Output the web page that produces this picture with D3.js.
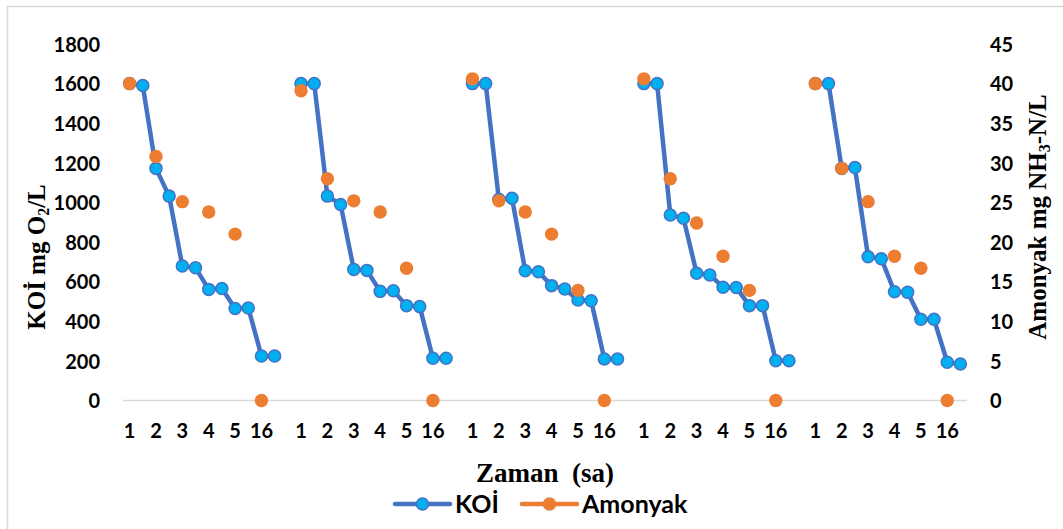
<!DOCTYPE html>
<html>
<head>
<meta charset="utf-8">
<script src="https://cdn.jsdelivr.net/npm/d3@7/dist/d3.min.js"></script>
<style>
  html, body { margin: 0; padding: 0; background: #fff; }
  svg { display: block; }
  .tick text { font-family: Lato, "Open Sans", sans-serif; font-weight: 700; font-size: 20px; fill: #000; }
  .title { font-family: "Liberation Serif", "Times New Roman", serif; font-weight: 700; fill: #000; }
  .legend text { font-family: Lato, "Open Sans", sans-serif; font-weight: 700; font-size: 25px; fill: #000; }
</style>
</head>
<body>
<svg id="chart" width="1063" height="529"></svg>
<script>
// Sampling times (hours) shown under each run
const times = ["1", "2", "3", "4", "5", "16"];

// COD (KOİ, mg O2/L): two readings per sampling time, five runs
const koiRun1 = [1600, 1590, 1172, 1032, 679, 670, 561, 565, 465, 467, 225, 225];
const koiRun2 = [1600, 1600, 1032, 990, 662, 657, 551, 554, 479, 474, 213, 213];
const koiRun3 = [1600, 1600, 1016, 1021, 655, 650, 580, 563, 507, 504, 210, 210];
const koiRun4 = [1600, 1600, 937, 920, 642, 634, 572, 571, 479, 479, 201, 201];
const koiRun5 = [1600, 1600, 1172, 1176, 726, 716, 549, 546, 410, 410, 193, 184];

// Ammonia (mg NH3-N/L): one reading per sampling time, five runs
const amonyakRun1 = [40.0, 30.8, 25.1, 23.8, 21.0, 0];
const amonyakRun2 = [39.1, 28.0, 25.2, 23.8, 16.7, 0];
const amonyakRun3 = [40.6, 25.2, 23.8, 21.0, 13.9, 0];
const amonyakRun4 = [40.6, 28.0, 22.4, 18.2, 13.9, 0];
const amonyakRun5 = [40.0, 29.3, 25.1, 18.2, 16.7, 0];

// Axis ticks
const koiTicks = [0, 200, 400, 600, 800, 1000, 1200, 1400, 1600, 1800];
const amonyakTicks = [0, 5, 10, 15, 20, 25, 30, 35, 40, 45];

const koiRuns = [koiRun1, koiRun2, koiRun3, koiRun4, koiRun5];
const amonyakRuns = [amonyakRun1, amonyakRun2, amonyakRun3, amonyakRun4, amonyakRun5];

// Build the category sequence: 12 slots per run plus one empty slot between runs
const categories = [];
const koiPoints = [];
const amonyakPoints = [];
koiRuns.forEach((run, r) => {
  run.forEach((v, k) => {
    const id = categories.length;
    categories.push({ id, label: k % 2 === 0 ? times[k / 2] : "" });
    koiPoints.push({ id, run: r, value: v });
    if (k % 2 === 0) amonyakPoints.push({ id, run: r, value: amonyakRuns[r][k / 2] });
  });
  if (r < koiRuns.length - 1) categories.push({ id: categories.length, label: "" });
});

const svg = d3.select("#chart");

// Chart frame
svg.append("path")
  .attr("d", "M7.5,529 V6.5 H1063")
  .attr("fill", "none")
  .attr("stroke", "#d9d9d9")
  .attr("stroke-width", 1.5);

const plot = { left: 123, right: 967, top: 44, bottom: 400.5 };

const x = d3.scaleBand()
  .domain(categories.map(d => d.id))
  .range([plot.left, plot.right])
  .padding(0);
const cx = id => x(id) + x.bandwidth() / 2;

const yKoi = d3.scaleLinear().domain([0, 1800]).range([plot.bottom, plot.top]);
const yAmo = d3.scaleLinear().domain([0, 45]).range([plot.bottom, plot.top]);

// Horizontal category axis line
svg.append("line")
  .attr("x1", plot.left).attr("x2", plot.right)
  .attr("y1", plot.bottom).attr("y2", plot.bottom)
  .attr("stroke", "#d9d9d9").attr("stroke-width", 1.5);

// Axes
const labelOf = new Map(categories.map(d => [d.id, d.label]));
svg.append("g")
  .attr("transform", `translate(0,${plot.bottom})`)
  .call(d3.axisBottom(x).tickSize(0).tickPadding(23).tickFormat(id => labelOf.get(id)))
  .call(g => g.select(".domain").remove());

svg.append("g")
  .attr("transform", `translate(${plot.left},0)`)
  .call(d3.axisLeft(yKoi).tickValues(koiTicks).tickSize(0).tickPadding(23).tickFormat(d3.format("d")))
  .call(g => g.select(".domain").remove())
  .call(g => g.selectAll(".tick text").attr("dy", "0.36em"));

svg.append("g")
  .attr("transform", `translate(${plot.right},0)`)
  .call(d3.axisRight(yAmo).tickValues(amonyakTicks).tickSize(0).tickPadding(23).tickFormat(d3.format("d")))
  .call(g => g.select(".domain").remove())
  .call(g => g.selectAll(".tick text").attr("dy", "0.36em"));

// Axis titles
svg.append("text")
  .attr("class", "title")
  .attr("transform", "translate(45,257) rotate(-90)")
  .attr("text-anchor", "middle")
  .attr("font-size", 25)
  .html('KOİ mg O<tspan font-size="16" dy="4">2</tspan><tspan dy="-4">/L</tspan>');

svg.append("text")
  .attr("class", "title")
  .attr("transform", "translate(1046,217) rotate(-90)")
  .attr("text-anchor", "middle")
  .attr("font-size", 25)
  .html('Amonyak mg NH<tspan font-size="16" dy="4">3</tspan><tspan dy="-4">-N/L</tspan>');

svg.append("text")
  .attr("class", "title")
  .attr("x", 545).attr("y", 482)
  .attr("text-anchor", "middle")
  .attr("font-size", 27)
  .attr("xml:space", "preserve")
  .text("Zaman  (sa)");

// KOİ series: one connected line per run
const line = d3.line().x(d => cx(d.id)).y(d => yKoi(d.value));
svg.append("g")
  .selectAll("path")
  .data(d3.groups(koiPoints, d => d.run))
  .join("path")
  .attr("d", ([, pts]) => line(pts))
  .attr("fill", "none")
  .attr("stroke", "#4472C4")
  .attr("stroke-width", 4.5)
  .attr("stroke-linejoin", "round");

svg.append("g")
  .selectAll("circle")
  .data(koiPoints)
  .join("circle")
  .attr("cx", d => cx(d.id))
  .attr("cy", d => yKoi(d.value))
  .attr("r", 6)
  .attr("fill", "#00B0F0")
  .attr("stroke", "#4472C4")
  .attr("stroke-width", 1.5);

// Ammonia series: markers only (readings are not adjacent on the axis)
svg.append("g")
  .selectAll("circle")
  .data(amonyakPoints)
  .join("circle")
  .attr("cx", d => cx(d.id))
  .attr("cy", d => yAmo(d.value))
  .attr("r", 6.7)
  .attr("fill", "#ED7D31");

// Legend
const legend = svg.append("g").attr("class", "legend");
const legendItems = [
  { name: "KOİ", x0: 395, line: "#4472C4", fill: "#00B0F0", stroke: "#4472C4" },
  { name: "Amonyak", x0: 522, line: "#ED7D31", fill: "#ED7D31", stroke: "#ED7D31" }
];
const li = legend.selectAll("g").data(legendItems).join("g")
  .attr("transform", d => `translate(${d.x0},504)`);
li.append("line")
  .attr("x1", 0).attr("x2", 55)
  .attr("stroke", d => d.line).attr("stroke-width", 4.5).attr("stroke-linecap", "round");
li.append("circle")
  .attr("cx", 27.5).attr("r", 6)
  .attr("fill", d => d.fill).attr("stroke", d => d.stroke).attr("stroke-width", 1.5);
li.append("text")
  .attr("x", 60).attr("dy", "0.36em")
  .text(d => d.name);
</script>
</body>
</html>
